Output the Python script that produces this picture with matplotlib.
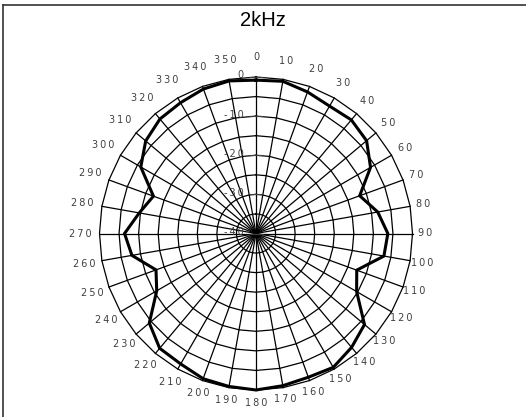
import numpy as np
import matplotlib
matplotlib.use("Agg")
import matplotlib.pyplot as plt
from matplotlib.lines import Line2D

# angles (deg, clockwise from top) and level (dB)
angles = list(range(0, 360, 10))
levels = [-0.8, -0.5, -1.5, -2.4, -2.1, -3.1, -6.2, -11.8, -8.4, -6.3,
          -6.8, -12.6, -10.3, -3.8, -2.0, -0.5, -0.9, -0.5, 0.0, -0.3,
          -0.5, -1.5, -1.7, -4.4, -10.7, -12.8, -7.8, -6.4, -9.7, -12.1,
          -6.0, -3.2, -1.8, -1.4, -0.7, -0.4]
ring_values = [-35, -30, -25, -20, -15, -10, -5, 0]
radial_labels = [0, -10, -20, -30, -40]
title = "2kHz"

fig = plt.figure(figsize=(5.26, 4.17), dpi=100)
ax = fig.add_axes([256 / 526 - 156.5 / 526, (417 - 233.5 - 156.5) / 417,
                   313 / 526, 313 / 417], projection="polar")
ax.set_theta_zero_location("N")
ax.set_theta_direction(-1)
ax.set_ylim(-40, 0)
ax.grid(False)
ax.spines["polar"].set_visible(False)
ax.set_xticks([])
ax.set_yticks([])
ax.patch.set_alpha(0)

theta = np.deg2rad(angles)
theta_closed = np.append(theta, theta[0])

# polygon grid (straight segments between spokes)
for v in ring_values:
    ax.plot(theta_closed, [v] * len(theta_closed), color="black", lw=0.9,
            solid_joinstyle="miter", clip_on=False)
for t in theta:
    ax.plot([t, t], [-40, 0], color="black", lw=0.9, clip_on=False)

# data
lv = np.append(levels, levels[0])
ax.plot(theta_closed, lv, color="black", lw=2.2, solid_joinstyle="miter",
        clip_on=False, zorder=5)

# angle labels
for a, t in zip(angles, theta):
    off = 16 + 3.5 * np.cos(t) - 3 * np.sin(t)
    txt = "\u2009".join(str(a))
    ax.annotate(txt, xy=(t, 0), xytext=(off * np.sin(t), off * np.cos(t)),
                textcoords="offset pixels", ha="center", va="center",
                fontsize=7, color="#404040", annotation_clip=False)

# radial axis labels and ticks
for v in radial_labels:
    ax.annotate("\u2009".join(str(v)), xy=(0, v), xytext=(-12, 1.5),
                textcoords="offset pixels", ha="right", va="center",
                fontsize=7, color="#404040", annotation_clip=False)
    ax.plot([0], [v], marker="_", markersize=10, color="#404040",
            markeredgewidth=0.8, clip_on=False)

fig.text(0.5, 1 - 20 / 417, title, ha="center", va="center",
         fontsize=14.5, family="Liberation Sans", color="black")

# chart area border (top and left visible)
fig.add_artist(Line2D([3 / 526, 3 / 526], [0, 1 - 5 / 417], color="#333333", lw=1.2))
fig.add_artist(Line2D([3 / 526, 1], [1 - 5 / 417, 1 - 5 / 417], color="#333333", lw=1.2))

fig.savefig("out.png", dpi=100)
